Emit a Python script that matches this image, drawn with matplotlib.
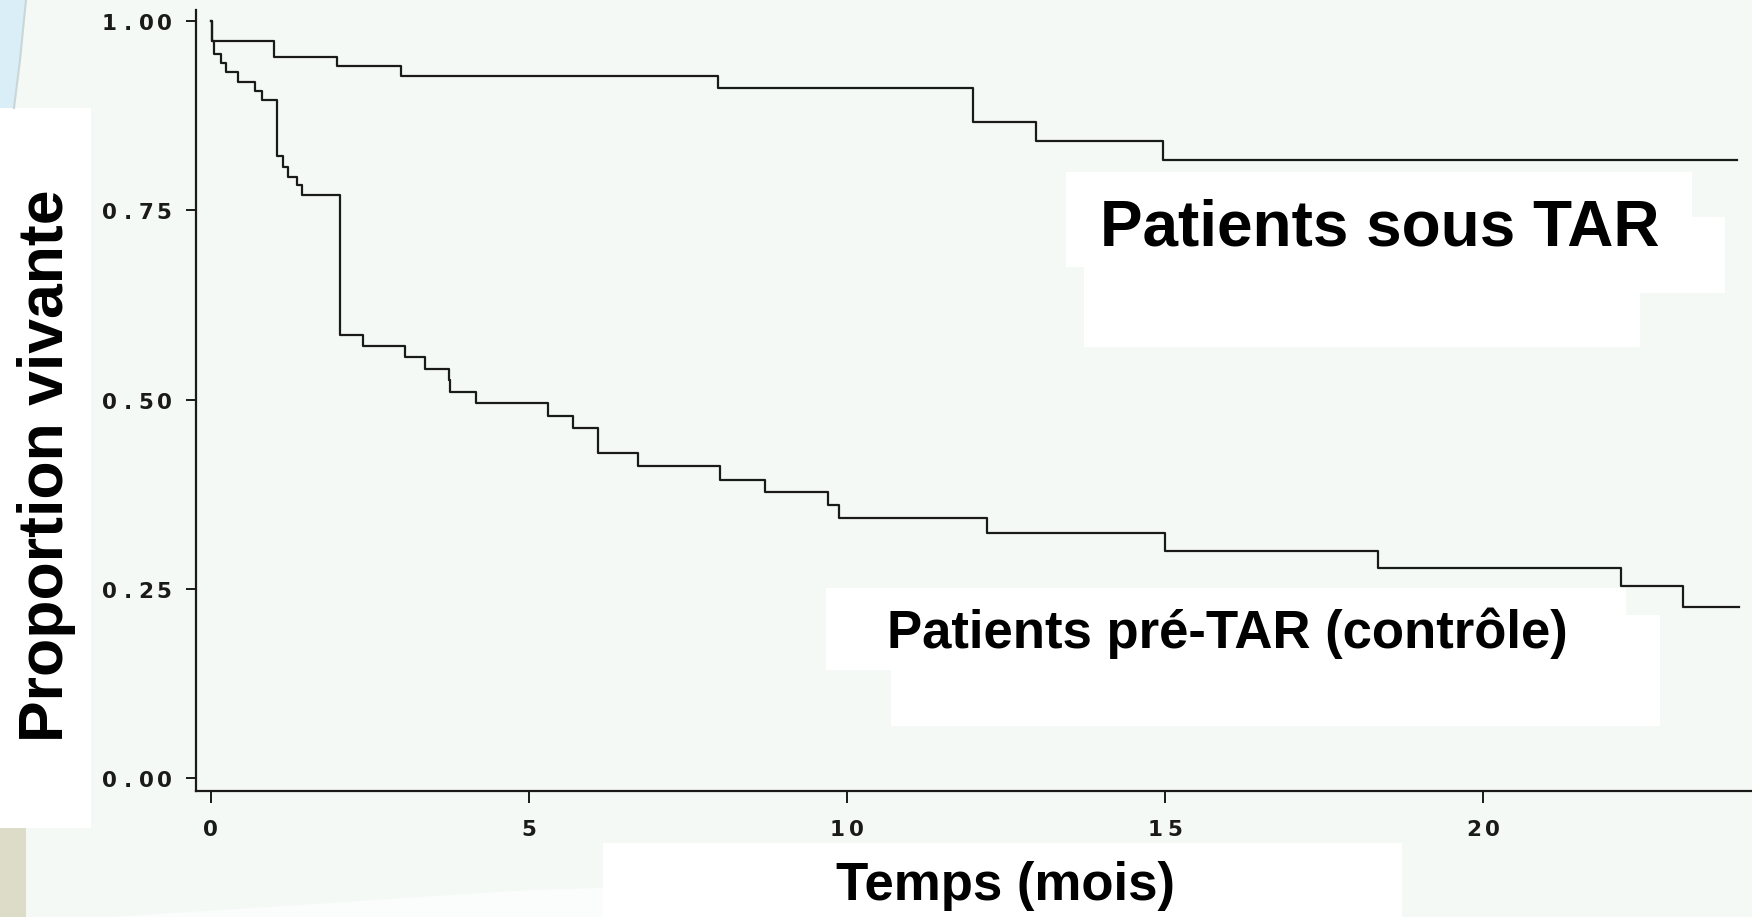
import numpy as np
import matplotlib.pyplot as plt
from matplotlib.patches import Rectangle, Polygon

# Courbes de survie (Kaplan-Meier)
tar_time = [0, 0.02, 1.00, 1.98, 3.00, 7.98, 11.98, 12.97, 14.97, 24.0]
tar_surv = [1.00, 0.974, 0.952, 0.941, 0.928, 0.912, 0.867, 0.842, 0.817, 0.817]

pre_time = [0, 0.02, 0.05, 0.17, 0.24, 0.43, 0.70, 0.81, 1.04, 1.14, 1.22, 1.36,
            1.44, 2.03, 2.39, 3.05, 3.37, 3.74, 3.77, 4.17, 5.31, 5.70, 6.09,
            6.72, 8.01, 8.72, 9.70, 9.88, 12.21, 15.0, 18.35, 22.17, 23.15, 24.02]
pre_surv = [1.00, 0.973, 0.957, 0.944, 0.932, 0.919, 0.908, 0.896, 0.822, 0.807,
            0.794, 0.783, 0.770, 0.585, 0.571, 0.556, 0.540, 0.526, 0.510, 0.496,
            0.479, 0.462, 0.430, 0.412, 0.394, 0.378, 0.361, 0.344, 0.324, 0.300,
            0.278, 0.254, 0.226, 0.226]

x_ticks = [0, 5, 10, 15, 20]
x_labels = ['0', '5', '10', '15', '20']
y_ticks = [0.0, 0.25, 0.50, 0.75, 1.00]
y_labels = ['0.00', '0.25', '0.50', '0.75', '1.00']

label_y = 'Proportion vivante'
label_x = 'Temps (mois)'
label_tar = 'Patients sous TAR'
label_pre = 'Patients pré-TAR (contrôle)'

W, H = 1752, 917
BG = '#f4f9f5'
INK = '#1a1a1a'
SANS = ['Liberation Sans', 'DejaVu Sans']

fig = plt.figure(figsize=(W / 100, H / 100), dpi=100, facecolor=BG)

# fond de la diapo (coordonnées en pixels)
bg = fig.add_axes([0, 0, 1, 1], zorder=0)
bg.set_xlim(0, W)
bg.set_ylim(H, 0)
bg.axis('off')
bg.add_patch(Polygon([(0, 0), (26, 0), (20, 60), (14, 108), (0, 108)],
                     closed=True, color='#d9eef6', lw=0))
bg.plot([26, 20, 14], [0, 60, 108], color='#c9d6da', lw=1.5)
bg.add_patch(Rectangle((0, 828), 26, H - 828, color='#dcdcc8', lw=0))
bg.add_patch(Polygon([(110, 917), (300, 905), (450, 895), (531, 890), (603, 888), (603, 917)],
                     closed=True, color='#fbfdfc', lw=0))
for (x0, y0, x1, y1) in [(0, 108, 91, 828),
                         (603, 843, 1402, 917),
                         (1066, 172, 1692, 267), (1084, 217, 1725, 293), (1084, 267, 1640, 347),
                         (826, 588, 1626, 670), (1626, 615, 1660, 670), (891, 670, 1660, 726)]:
    bg.add_patch(Rectangle((x0, y0), x1 - x0, y1 - y0, color='white', lw=0))

bg.text(47, 466, label_y, rotation=90, ha='center', va='center',
        fontsize=45, fontweight='bold', family=SANS)
bg.text(1005, 886, label_x, ha='center', va='center',
        fontsize=38, fontweight='bold', family=SANS)
bg.text(1380, 246, label_tar, ha='center', va='baseline',
        fontsize=46, fontweight='bold', family=SANS)
bg.text(1227, 648, label_pre, ha='center', va='baseline',
        fontsize=38, fontweight='bold', family=SANS)

# graphique
left, right, top, bottom = 196, 1752, 10, 790.7
ax = fig.add_axes([left / W, 1 - bottom / H, (right - left) / W, (bottom - top) / H], zorder=1)
ax.patch.set_alpha(0)

ax.step(tar_time, tar_surv, where='post', color=INK, lw=1.6)
ax.step(pre_time, pre_surv, where='post', color=INK, lw=1.6)

ax.set_xlim(-0.23, 24.23)
ax.set_ylim(-0.0164, 1.0145)
for s in ['top', 'right']:
    ax.spines[s].set_visible(False)
for s in ['left', 'bottom']:
    ax.spines[s].set_linewidth(1.6)
    ax.spines[s].set_color(INK)

ax.set_xticks(x_ticks)
ax.set_yticks(y_ticks)
ax.set_xticklabels([])
ax.set_yticklabels([])
ax.tick_params(axis='y', direction='out', length=7.2, width=1.4, colors=INK)
ax.tick_params(axis='x', direction='out', length=8.6, width=1.4, colors=INK)

# étiquettes de graduation espacées, façon police bitmap
tick_font = dict(family='DejaVu Sans', fontweight='bold', fontsize=15.5, color=INK,
                 ha='center', va='center', textcoords='offset pixels')
for v, lab in zip(y_ticks, y_labels):
    for ch, dx in zip(lab, [-87, -68, -50, -32]):
        ax.annotate(ch, xy=(0, v), xycoords=ax.get_yaxis_transform(),
                    xytext=(dx, -3), **tick_font)
for v, lab in zip(x_ticks, x_labels):
    n = len(lab)
    for i, ch in enumerate(lab):
        dx = (i - (n - 1) / 2) * 19
        ax.annotate(ch, xy=(v, 0), xycoords=ax.get_xaxis_transform(),
                    xytext=(dx, -39), **tick_font)

fig.savefig('out.png', dpi=100, facecolor=BG)
